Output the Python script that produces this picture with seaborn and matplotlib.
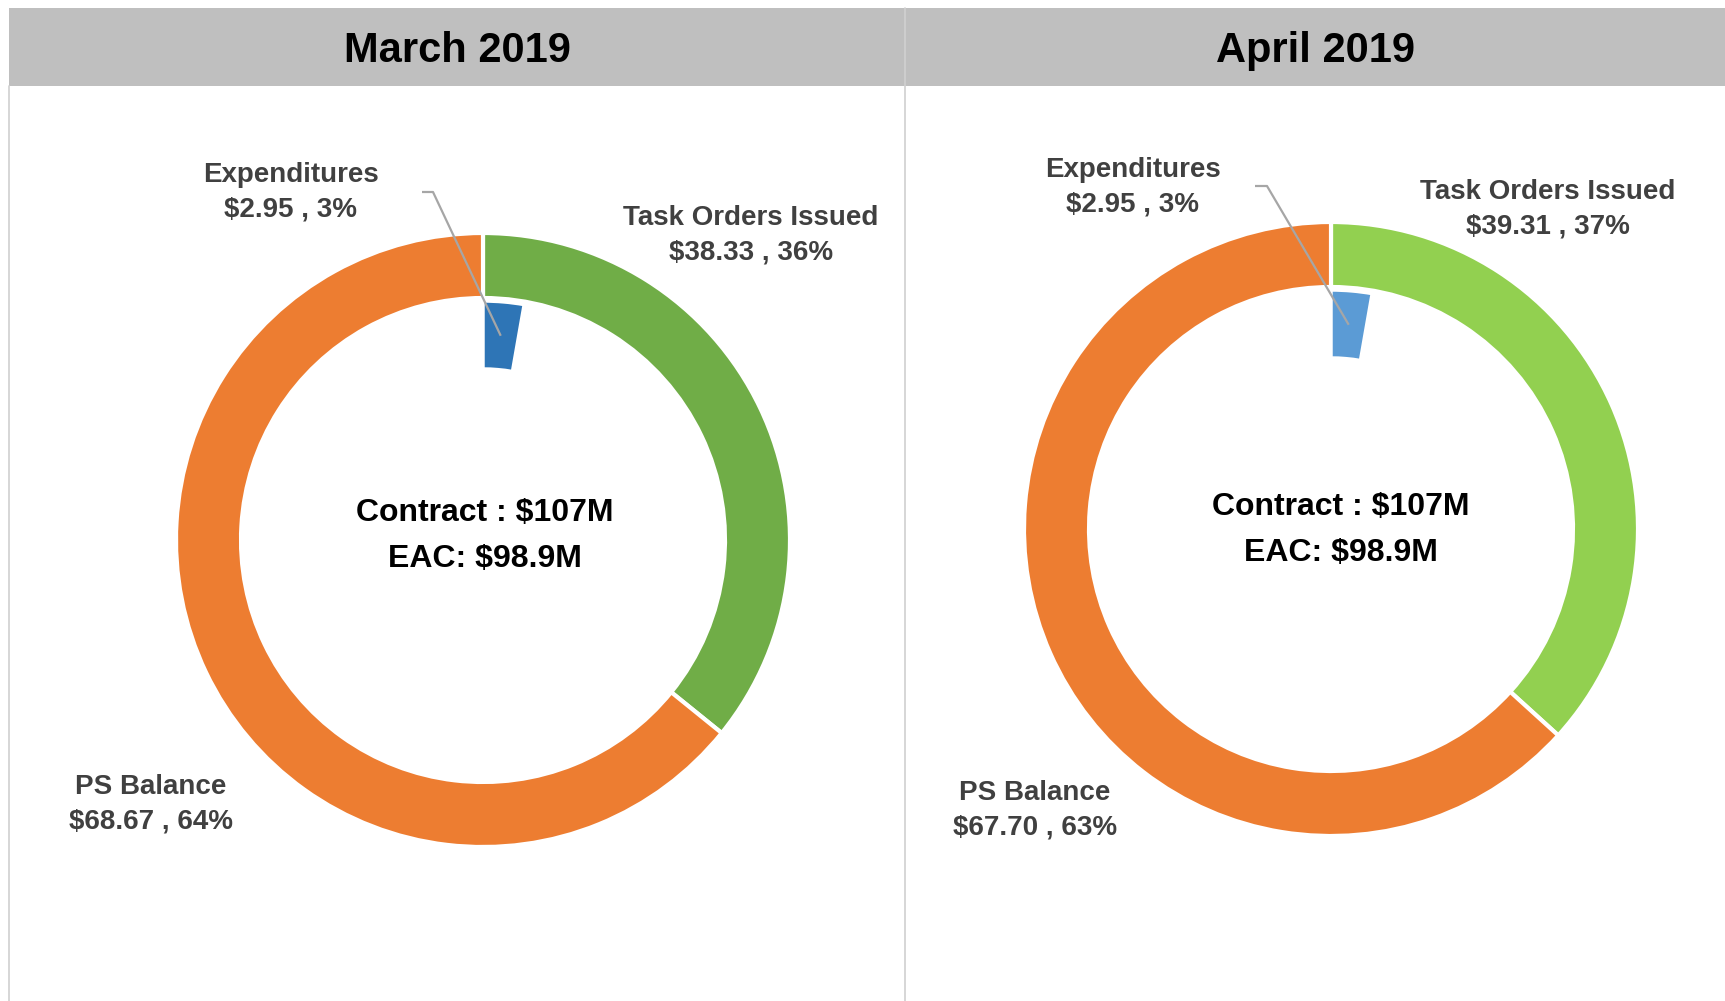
import matplotlib
matplotlib.use("Agg")
import matplotlib.pyplot as plt
import numpy as np
import seaborn as sns

sns.set_theme(style="white")
plt.rcParams["font.family"] = ["Liberation Sans", "DejaVu Sans"]

# ---- data -------------------------------------------------------------
months = ["March 2019", "April 2019"]
task_orders = [38.33, 39.31]      # $M
ps_balance = [68.67, 67.70]       # $M
expenditures = [2.95, 2.95]       # $M
contract_m = [107, 107]
eac_m = [98.9, 98.9]

green_cols = ["#70AD47", "#92D050"]
blue_cols = ["#2E75B6", "#5B9BD5"]
orange = "#ED7D31"
label_col = "#404040"

W, H = 1725, 1001
fig = plt.figure(figsize=(W / 100, H / 100), dpi=100)
ax = fig.add_axes([0, 0, 1, 1])


def Y(y):
    """convert a top-down pixel row to the axis' bottom-up y"""
    return H - y


# panel layout (pixel units)
panels = [
    dict(x0=9, x1=905, cx=483, cy=540,
         exp_lbl=(291, 192), task_lbl=(751, 235), ps_lbl=(151, 804),
         centre=(485, 536), elbow=(422, 433, 192)),
    dict(x0=905, x1=W, cx=1331, cy=529,
         exp_lbl=(1133, 187), task_lbl=(1548, 209), ps_lbl=(1035, 810),
         centre=(1341, 530), elbow=(1255, 1267, 186)),
]

R_OUT, W_OUT = 307, 65
R_IN, W_IN = 239, 68

for i, p in enumerate(panels):
    total = task_orders[i] + ps_balance[i]
    # header band
    ax.add_patch(plt.Rectangle((p["x0"], Y(86)), p["x1"] - p["x0"], 78,
                               facecolor="#BFBFBF", edgecolor="none", zorder=1))
    ax.text((p["x0"] + p["x1"]) / 2, Y(51), months[i], ha="center", va="center",
            fontsize=30, fontweight="bold", color="black", zorder=3)

    # outer ring: task orders + PS balance
    ax.pie([task_orders[i], ps_balance[i]], colors=[green_cols[i], orange],
           startangle=90, counterclock=False, radius=R_OUT,
           center=(p["cx"], Y(p["cy"])),
           wedgeprops=dict(width=W_OUT, edgecolor="white", linewidth=3))

    # inner ring: expenditures against the contract total
    wedges, _ = ax.pie([expenditures[i], total - expenditures[i]],
                       colors=[blue_cols[i], "white"],
                       startangle=90, counterclock=False, radius=R_IN,
                       center=(p["cx"], Y(p["cy"])),
                       wedgeprops=dict(width=W_IN, edgecolor="white", linewidth=2.5))
    wedges[1].set_visible(False)

    pct = lambda v: round(v / total * 100)
    kw = dict(ha="center", va="center", fontsize=20, fontweight="bold",
              color=label_col, linespacing=1.42, zorder=4)
    ax.text(p["exp_lbl"][0], Y(p["exp_lbl"][1]),
            f"Expenditures\n${expenditures[i]:.2f} , {pct(expenditures[i])}%", **kw)
    ax.text(p["task_lbl"][0], Y(p["task_lbl"][1]),
            f"Task Orders Issued\n${task_orders[i]:.2f} , {pct(task_orders[i])}%", **kw)
    ax.text(p["ps_lbl"][0], Y(p["ps_lbl"][1]),
            f"PS Balance\n${ps_balance[i]:.2f} , {pct(ps_balance[i])}%", **kw)

    # leader line from the expenditure label to its wedge
    half = expenditures[i] / total * 360 / 2
    ang = np.deg2rad(90 - half)
    r_mid = R_IN - W_IN / 2
    ex = p["cx"] + r_mid * np.cos(ang)
    ey = Y(p["cy"]) + r_mid * np.sin(ang)
    xa, xb, yl = p["elbow"]
    ax.plot([xa, xb, ex], [Y(yl), Y(yl), ey], color="#A6A6A6", lw=1.6, zorder=5,
            solid_capstyle="butt")

    ax.text(p["centre"][0], Y(p["centre"][1]),
            f"Contract : ${contract_m[i]}M\nEAC: ${eac_m[i]}M",
            ha="center", va="center", fontsize=23, fontweight="bold",
            color="black", linespacing=1.7, zorder=4)

# panel borders
ax.plot([9, 9], [Y(86), 0], color="#D0D0D0", lw=1.2, zorder=2)
ax.plot([905, 905], [Y(8), 0], color="#D0D0D0", lw=1.2, zorder=2)

ax.set_xlim(0, W)
ax.set_ylim(0, H)
ax.set_aspect("equal", adjustable="datalim")
ax.axis("off")
fig.savefig("out.png", dpi=100, facecolor="white")
